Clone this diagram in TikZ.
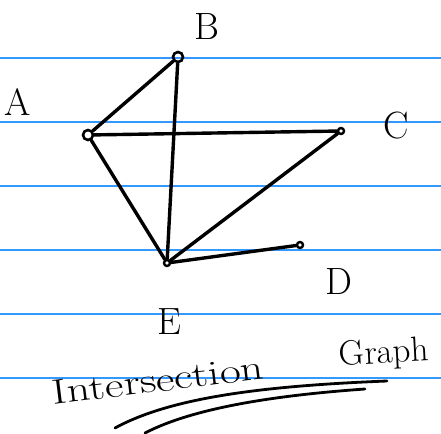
\documentclass[tikz,border=0pt]{standalone}
\begin{document}
\begin{tikzpicture}[x=1pt,y=-1pt,
  ruled/.style={draw={rgb,255:red,51;green,153;blue,255},line width=1.2pt},
  vert/.style={circle,draw,line width=2.6pt,inner sep=0pt,minimum size=10pt},
  smallvert/.style={circle,draw,line width=2.4pt,inner sep=0pt,minimum size=6pt},
  edge/.style={line width=3.4pt,line cap=round},
  lbl/.style={font=\fontsize{38}{38}\selectfont},
  hand/.style={font=\fontsize{35}{35}\selectfont,inner sep=1pt}]
\useasboundingbox (0,0) rectangle (441,433);
\fill[white] (0,0) rectangle (441,433);
\foreach \y in {58,122,186,250,314,378} \draw[ruled] (0,\y) -- (441,\y);
\node[vert] (A) at (88,135) {};
\node[vert] (B) at (178,57) {};
\node[smallvert] (C) at (341,131) {};
\node[smallvert] (D) at (300,245) {};
\node[smallvert] (E) at (167,263) {};
\draw[edge] (A) -- (B);
\draw[edge] (A) -- (C);
\draw[edge] (A) -- (E);
\draw[edge] (B) -- (E);
\draw[edge] (C) -- (E);
\draw[edge] (E) -- (D);
\node[lbl] (lA) at (18,102) {A};
\node[lbl] (lB) at (207,27) {B};
\node[lbl] (lC) at (396,126) {C};
\node[lbl] (lD) at (339,282) {D};
\node[lbl] (lE) at (169,322) {E};
\node[hand,rotate=7,xscale=1.3] (t1) at (158,380) {Intersection};
\node[hand,rotate=3,anchor=west] (t2) at (338,357) {Graph};
\coordinate (u1a) at (115,428);
\coordinate (u1b) at (387,381);
\coordinate (u2a) at (145,433);
\coordinate (u2b) at (365,389);
\draw[line width=2.8pt,line cap=round] (u1a) .. controls (170,398) and (260,386) .. (u1b);
\draw[line width=2.8pt,line cap=round] (u2a) .. controls (195,407) and (280,395) .. (u2b);
\end{tikzpicture}
\end{document}
